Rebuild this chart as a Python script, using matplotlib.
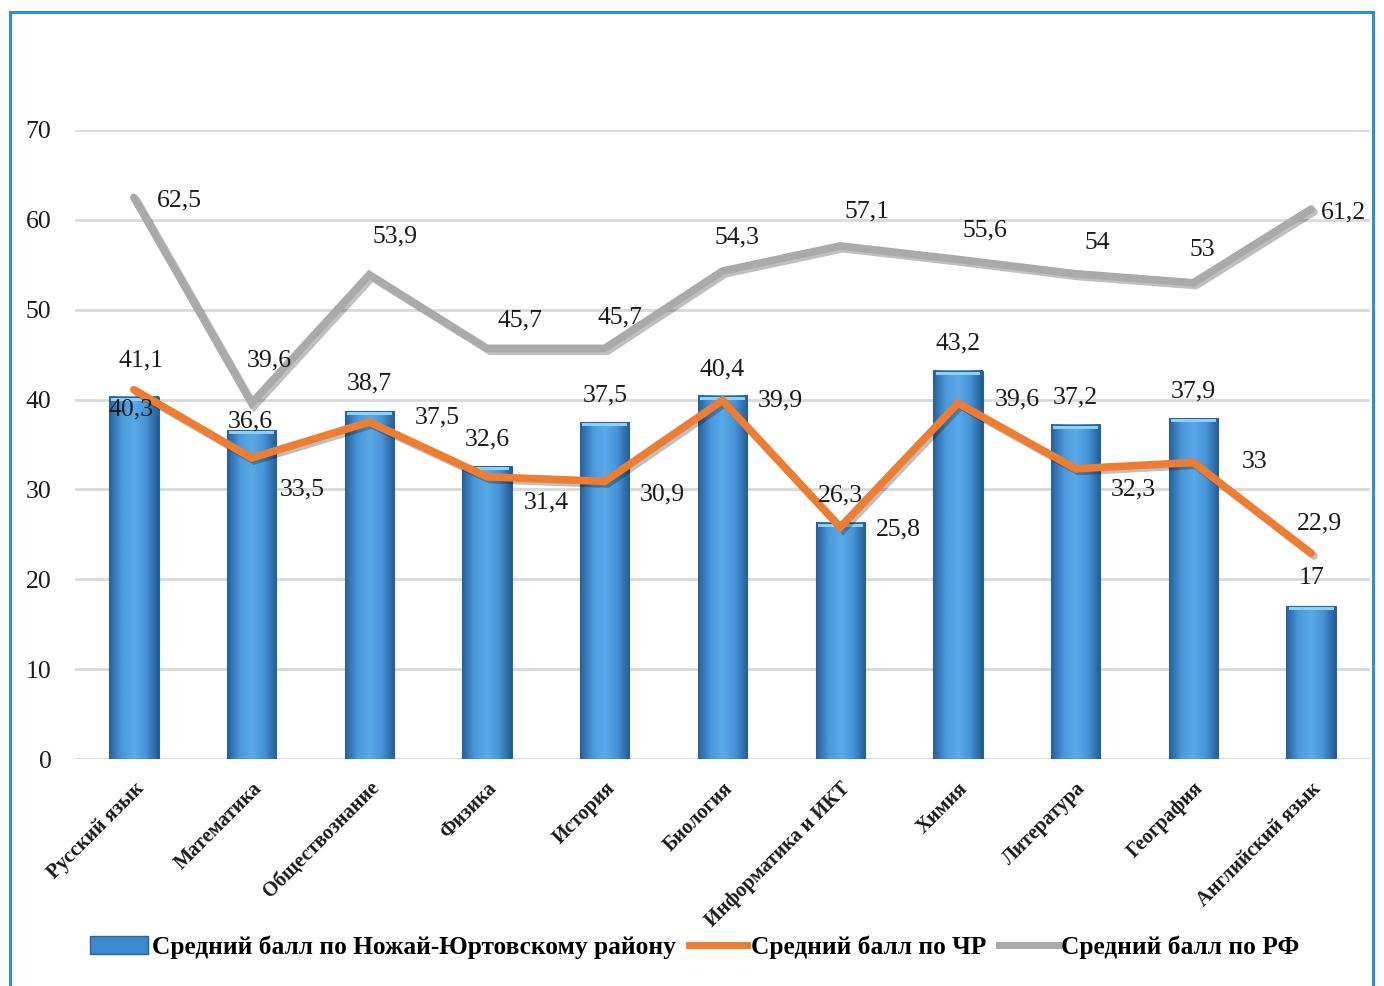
import numpy as np
import matplotlib
matplotlib.use("Agg")
import matplotlib.pyplot as plt
from matplotlib.colors import LinearSegmentedColormap
from matplotlib.patches import Patch
from matplotlib.lines import Line2D
import matplotlib.patheffects as pe

# Данные
предметы = ["Русский язык", "Математика", "Обществознание", "Физика", "История",
            "Биология", "Информатика и ИКТ", "Химия", "Литература", "География",
            "Английский язык"]
район = [40.3, 36.6, 38.7, 32.6, 37.5, 40.4, 26.3, 43.2, 37.2, 37.9, 17]
чр = [41.1, 33.5, 37.5, 31.4, 30.9, 39.9, 25.8, 39.6, 32.3, 33, 22.9]
рф = [62.5, 39.6, 53.9, 45.7, 45.7, 54.3, 57.1, 55.6, 54, 53, 61.2]
легенда = ["Средний балл по Ножай-Юртовскому району", "Средний балл по ЧР",
           "Средний балл по РФ"]

# смещения подписей (в пикселях)
смещ_район = [(-3, -13), (-1, 9), (0, 28), (0, 27), (0, 27), (0, 27), (0, 27),
              (0, 27), (0, 27), (0, 27), (0, 28)]
смещ_чр = [(7, 29), (51, -31), (68, 5), (59, -26), (58, -13), (58, 0), (58, -2),
           (59, 4), (58, -21), (61, 0), (8, 30)]
смещ_рф = [(46, -3), (18, 43), (26, 38), (33, 28), (15, 31), (15, 34), (27, 34),
           (27, 29), (22, 31), (9, 33), (32, -3)]

def подпись(v):
    return ("%g" % v).replace(".", ",")

plt.rcParams["font.family"] = ["Liberation Serif", "DejaVu Serif"]

fig = plt.figure(figsize=(13.84, 9.86), dpi=100)
ax = fig.add_axes([75 / 1384, 1 - 759 / 986, 1295 / 1384, 629 / 986])

x = np.arange(len(предметы))
w = 0.42

# столбцы с градиентом
cmap = LinearSegmentedColormap.from_list("bar", ["#25609c", "#4a98da", "#5aaae8",
                                                 "#4693d6", "#245c96"])
grad = np.linspace(0, 1, 64).reshape(1, -1)
for xi, h in zip(x, район):
    ax.imshow(grad, extent=[xi - w / 2, xi + w / 2, 0, h], aspect="auto",
              cmap=cmap, zorder=2, interpolation="bicubic")
    ax.add_patch(plt.Rectangle((xi - w / 2, 0), w, h, fill=False,
                               edgecolor="#2b6399", lw=0.8, zorder=2.1))
    ax.add_patch(plt.Rectangle((xi - w / 2 + 0.02, h - 0.45), w - 0.04, 0.35,
                               facecolor="#8fd0f5", edgecolor="none", zorder=2.2))

тень = [pe.SimpleLineShadow(offset=(2, -2), alpha=0.25), pe.Normal()]
ax.plot(x, рф, color="#aaaaaa", lw=5.5, zorder=3, solid_capstyle="round",
        solid_joinstyle="miter", path_effects=тень)
ax.plot(x, чр, color="#ee7d31", lw=5.5, zorder=4, solid_capstyle="round",
        solid_joinstyle="miter", path_effects=тень)

for xi, v, (dx, dy) in zip(x, район, смещ_район):
    ax.annotate(подпись(v), (xi, v), xytext=(dx, dy), textcoords="offset pixels",
                ha="center", va="center", fontsize=18.5, color="#1a1a1a", zorder=6)
for xi, v, (dx, dy) in zip(x, чр, смещ_чр):
    ax.annotate(подпись(v), (xi, v), xytext=(dx, dy), textcoords="offset pixels",
                ha="center", va="center", fontsize=18.5, color="#1a1a1a", zorder=6)
for xi, v, (dx, dy) in zip(x, рф, смещ_рф):
    ax.annotate(подпись(v), (xi, v), xytext=(dx, dy), textcoords="offset pixels",
                ha="center", va="center", fontsize=18.5, color="#1a1a1a", zorder=6)

ax.set_xlim(-0.5, len(предметы) - 0.5)
ax.set_ylim(0, 70)
ax.set_yticks(range(0, 71, 10))
ax.tick_params(axis="y", length=0, pad=17, labelsize=18.5, labelcolor="#1a1a1a")
ax.set_xticks(x)
ax.set_xticklabels(предметы, rotation=45, ha="right", rotation_mode="anchor",
                   fontsize=14.7, fontweight="bold", color="#1a1a1a")
ax.tick_params(axis="x", length=0, pad=14)
ax.grid(axis="y", color="#d9d9d9", lw=2)
ax.set_axisbelow(True)
for s in ax.spines.values():
    s.set_visible(False)

ручки = [Patch(facecolor="#3b88cc", edgecolor="#2b6399"),
         Line2D([0], [0], color="#ee7d31", lw=5),
         Line2D([0], [0], color="#aaaaaa", lw=5)]
fig.legend(ручки, легенда, loc="center", bbox_to_anchor=(0.502, 1 - 947 / 986),
           ncol=3, frameon=False, prop={"weight": "bold", "size": 18.3},
           handlelength=2.3, handletextpad=0.15, columnspacing=0.5)

# рамка
рамка = "#2b8fd4"
fig.add_artist(Line2D([10 / 1384, 10 / 1384], [0, 1 - 12 / 986], color=рамка, lw=2.2))
fig.add_artist(Line2D([10 / 1384, 1373 / 1384], [1 - 12 / 986, 1 - 12 / 986], color=рамка, lw=2.2))
fig.add_artist(Line2D([1373 / 1384, 1373 / 1384], [0, 1 - 12 / 986], color=рамка, lw=2.2))

fig.savefig("out.png", dpi=100)
